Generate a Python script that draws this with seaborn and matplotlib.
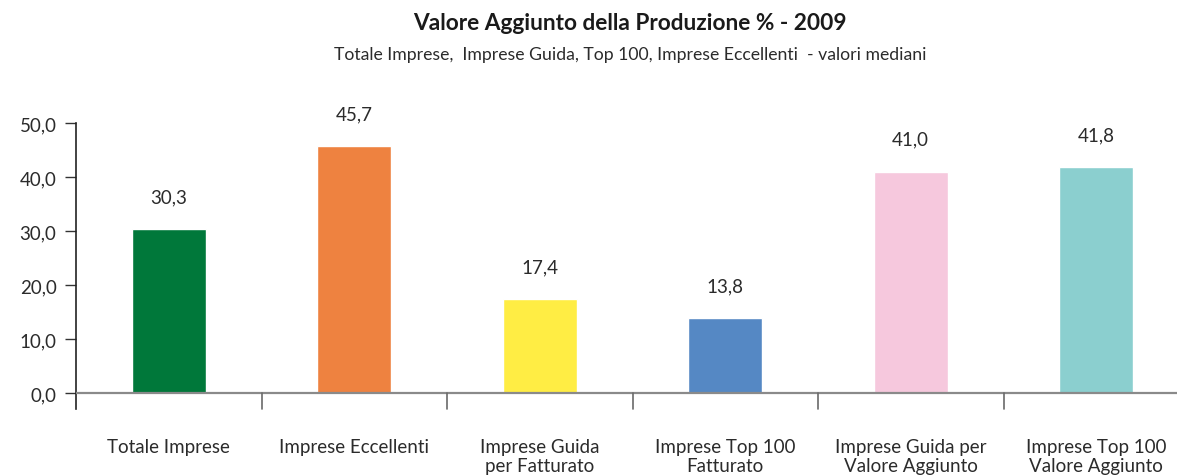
import matplotlib
matplotlib.use("Agg")
import matplotlib.pyplot as plt
import seaborn as sns
import pandas as pd

categories = [
    "Totale Imprese",
    "Imprese Eccellenti",
    "Imprese Guida\nper Fatturato",
    "Imprese Top 100\nFatturato",
    "Imprese Guida per\nValore Aggiunto",
    "Imprese Top 100\nValore Aggiunto",
]
values = [30.3, 45.7, 17.4, 13.8, 41.0, 41.8]
colors = ["#00783A", "#EE8240", "#FFED44", "#5588C4", "#F6C8DD", "#8BCFCF"]
y_ticks = [0, 10, 20, 30, 40, 50]

title = "Valore Aggiunto della Produzione % - 2009"
subtitle = "Totale Imprese,  Imprese Guida, Top 100, Imprese Eccellenti  - valori mediani"

sns.set_theme(style="white")
plt.rcParams["font.family"] = ["Lato", "DejaVu Sans"]
text_color = "#2b2b2b"

df = pd.DataFrame({"categoria": categories, "valore": values})

fig = plt.figure(figsize=(11.77, 4.77), dpi=100)
ax = fig.add_axes([76 / 1177, 67 / 477, (1189 - 76) / 1177, (410 - 124) / 477])

sns.barplot(data=df, x="categoria", y="valore", hue="categoria",
            palette=colors, width=0.4, legend=False, saturation=1, ax=ax)

ax.set_xlim(-0.5, len(categories) - 0.5)
ax.set_ylim(-2.96, 50)
ax.set_yticks(y_ticks)
ax.set_yticklabels([f"{t:.1f}".replace(".", ",") for t in y_ticks],
                   fontsize=13.5, color=text_color)
ax.tick_params(axis="y", direction="out", length=8, width=1, color="#333333",
               left=True, pad=6)
ax.tick_params(axis="x", length=0, pad=21)
ax.set_xticks(range(len(categories)))
ax.set_xticklabels(categories, fontsize=13.5, color=text_color, linespacing=1.12)
ax.set_xlabel("")
ax.set_ylabel("")

for side in ["top", "right", "bottom"]:
    ax.spines[side].set_visible(False)
ax.spines["left"].set_color("#222222")
ax.spines["left"].set_linewidth(1.2)

# zero line and category separators
ax.axhline(0, color="#8a8a8a", lw=1.6, zorder=3)
for b in range(1, len(categories)):
    ax.plot([b - 0.5, b - 0.5], [-2.96, 0], color="#6a6a6a", lw=1.2,
            clip_on=False, zorder=3)

for i, v in enumerate(values):
    ax.text(i, v + 6.0, f"{v:.1f}".replace(".", ","), ha="center", va="center",
            fontsize=13.5, color=text_color)

fig.text(630 / 1177, 1 - 24 / 477, title, ha="center", va="center",
         fontsize=16.3, fontweight="bold", color="#1a1a1a")
fig.text(630 / 1177, 1 - 55 / 477, subtitle, ha="center", va="center",
         fontsize=12.7, color=text_color)

fig.savefig("out.png", dpi=100)
